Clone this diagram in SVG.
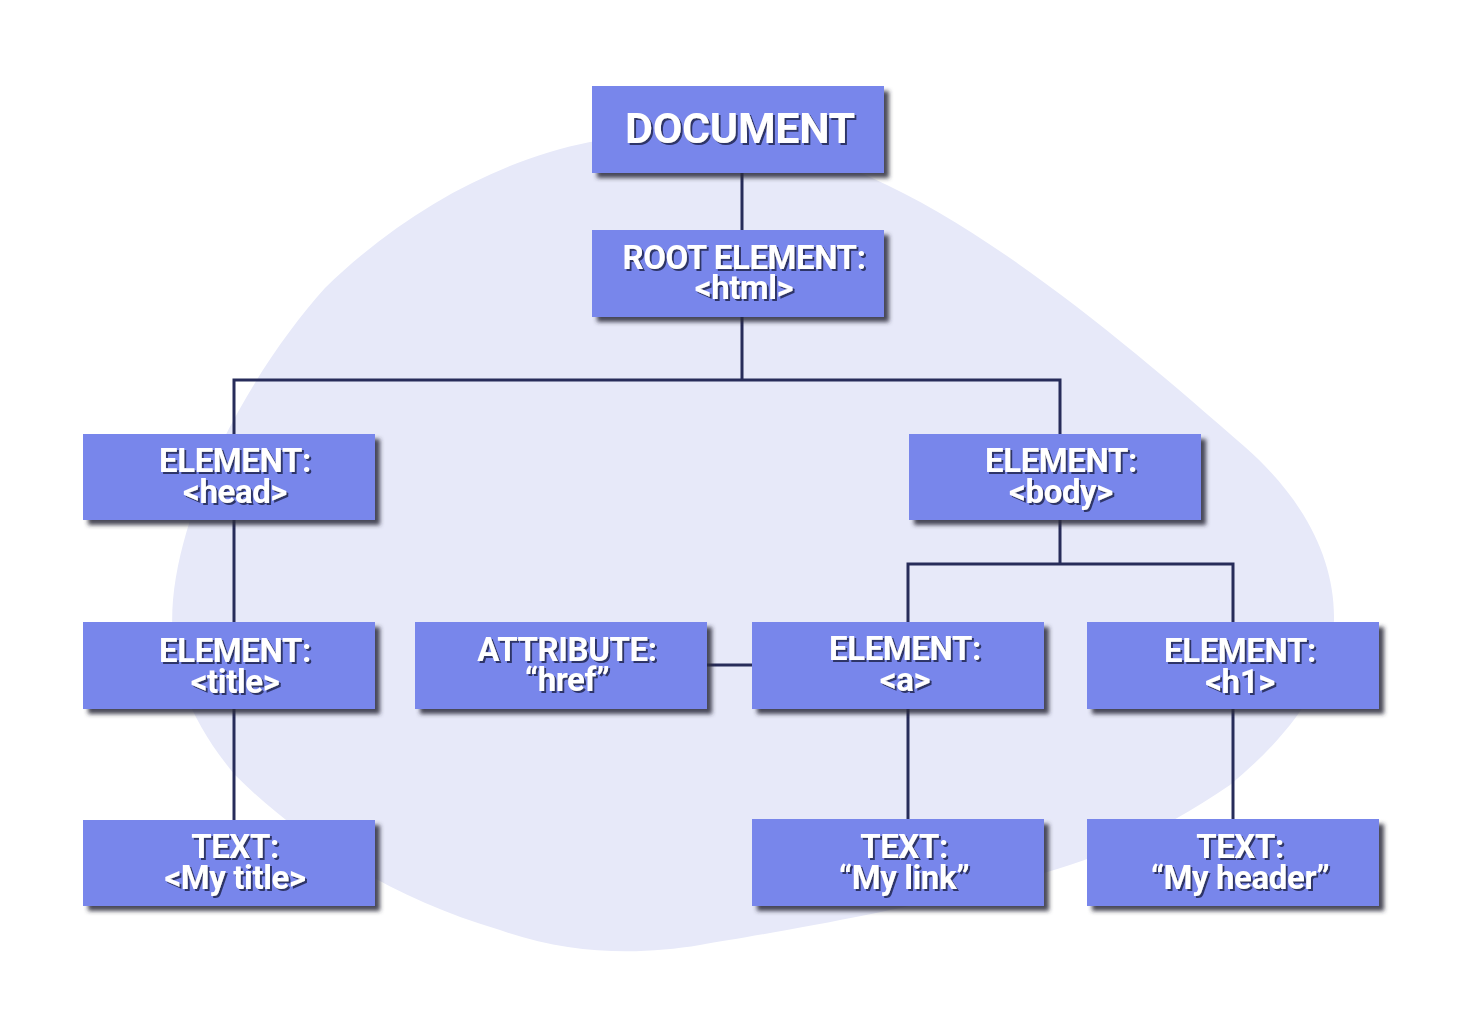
<svg xmlns="http://www.w3.org/2000/svg" width="1476" height="1018" viewBox="0 0 1476 1018">
<style>
.box{fill:#7886EB;filter:url(#bs)}
.t{font-family:Roboto,"Liberation Sans",sans-serif;font-weight:700;fill:#ffffff;text-anchor:middle;font-size:33px;letter-spacing:-0.4px;filter:url(#ts)}
.big{font-size:43px;letter-spacing:-0.3px}
.c{fill:none;stroke:#272C5A;stroke-width:3}
</style>
<defs>
<filter id="bs" x="-10%" y="-20%" width="130%" height="150%">
<feDropShadow dx="5" dy="5" stdDeviation="2.2" flood-color="#2a2c3a" flood-opacity="0.85"/>
</filter>
<filter id="ts" x="-10%" y="-30%" width="130%" height="160%">
<feDropShadow dx="2" dy="2" stdDeviation="0.3" flood-color="#2E3568" flood-opacity="1"/>
</filter>
</defs>
<rect width="1476" height="1018" fill="#ffffff"/>
<path d="M 590,142 C 700,125 800,145 870,177 C 1000,235 1140,355 1245,447 C 1305,500 1335,560 1334,620 C 1332,680 1290,735 1230,785 C 1150,840 1080,865 1000,885 C 880,915 760,935 700,945 C 640,955 570,955 500,930 C 380,895 290,830 235,775 C 185,715 168,660 173,600 C 183,490 260,360 325,288 C 405,210 500,160 590,142 Z" fill="#E7E9F9"/>
<g id="connectors">
<path class="c" d="M742,173 V230"/>
<path class="c" d="M742,317 V380 M234,434 V380 H1060 V434"/>
<path class="c" d="M234,520 V622"/>
<path class="c" d="M234,709 V820"/>
<path class="c" d="M1060,520 V564 M908,622 V564 H1233 V622"/>
<path class="c" d="M707,665 H752"/>
<path class="c" d="M908,709 V819"/>
<path class="c" d="M1233,709 V819"/>
</g>
<g id="document"><rect class="box" x="592" y="86" width="292" height="87"/><text class="t big" x="740" y="143">DOCUMENT</text></g>
<g id="root"><rect class="box" x="592" y="230" width="292" height="87"/><text class="t" x="744" y="269">ROOT ELEMENT:</text><text class="t" x="744" y="299">&lt;html&gt;</text></g>
<g id="head"><rect class="box" x="83" y="434" width="292" height="86"/><text class="t" x="235" y="472">ELEMENT:</text><text class="t" x="235" y="503">&lt;head&gt;</text></g>
<g id="body"><rect class="box" x="909" y="434" width="292" height="86"/><text class="t" x="1061" y="472">ELEMENT:</text><text class="t" x="1061" y="503">&lt;body&gt;</text></g>
<g id="title"><rect class="box" x="83" y="622" width="292" height="87"/><text class="t" x="235" y="662">ELEMENT:</text><text class="t" x="235" y="693">&lt;title&gt;</text></g>
<g id="attribute"><rect class="box" x="415" y="622" width="292" height="87"/><text class="t" x="567" y="661">ATTRIBUTE:</text><text class="t" x="567" y="691">“href”</text></g>
<g id="a"><rect class="box" x="752" y="622" width="292" height="87"/><text class="t" x="905" y="660">ELEMENT:</text><text class="t" x="905" y="691">&lt;a&gt;</text></g>
<g id="h1"><rect class="box" x="1087" y="622" width="292" height="87"/><text class="t" x="1240" y="662">ELEMENT:</text><text class="t" x="1240" y="693">&lt;h1&gt;</text></g>
<g id="text-title"><rect class="box" x="83" y="820" width="292" height="86"/><text class="t" x="235" y="858">TEXT:</text><text class="t" x="235" y="889">&lt;My title&gt;</text></g>
<g id="text-link"><rect class="box" x="752" y="819" width="292" height="87"/><text class="t" x="904" y="858">TEXT:</text><text class="t" x="904" y="889">“My link”</text></g>
<g id="text-header"><rect class="box" x="1087" y="819" width="292" height="87"/><text class="t" x="1240" y="858">TEXT:</text><text class="t" x="1240" y="889">“My header”</text></g>
</svg>
